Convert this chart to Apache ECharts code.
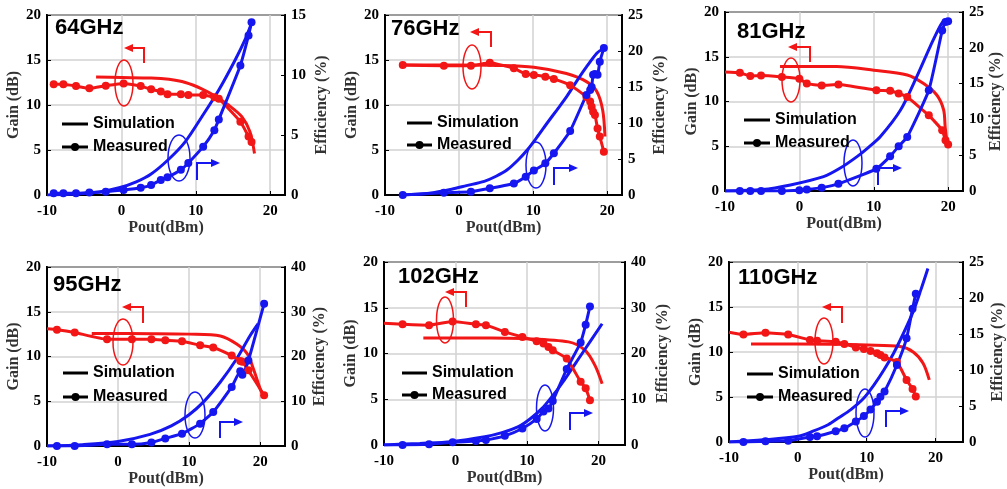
<!DOCTYPE html>
<html><head><meta charset="utf-8">
<script src="https://cdn.jsdelivr.net/npm/echarts@6/dist/echarts.min.js"></script>
<style>html,body{margin:0;padding:0;background:#fff}#c{width:1007px;height:489px}</style>
</head><body><div id="c"></div>
<script>
// ---------- DATA ----------
const xTicks = [-10, 0, 10, 20];
const gainTicks = [0, 5, 10, 15, 20];

// 64 GHz
const pout64 = [-9.1,-7.8,-6.1,-4.3,-2.1,0.3,2.6,4.0,5.3,6.2,8.0,9.0,11.0,12.5,13.1,16.0,17.1,17.5];
const gain64 = [12.3,12.3,12.1,11.85,12.15,12.4,12.1,11.75,11.5,11.2,11.2,11.1,11.1,10.85,10.7,8.15,6.5,5.9];
const eff64  = [0.14,0.14,0.14,0.2,0.28,0.42,0.6,0.83,1.25,1.47,2.1,2.67,4.03,5.4,6.3,10.8,13.3,14.4];
const simGainX64 = [-3.4,0,4,6.4,8.6,10.8,12.6,14.4,16.2,17.3,17.9];
const simGain64  = [13.1,13.05,13.0,12.85,12.5,11.8,11.0,10.0,8.7,7.0,4.6];
const simEffX64  = [-10,-6,-3,-0.3,2,4,6.4,8.6,10.8,13.1,15.3,16.6,17.5];
const simEff64   = [0,0.08,0.25,0.6,1.1,1.75,3.0,4.45,6.5,8.75,11.25,12.9,14.3];

// 76 GHz
const pout76 = [-7.6,-2.05,1.6,4.15,7.4,9.0,10.1,11.65,12.8,15.0,17.2,17.7,17.9,18.1,18.35,18.7,19.0,19.55];
const gain76 = [14.44,14.37,14.37,14.7,14.07,13.44,13.33,13.15,12.9,12.2,10.9,10.4,9.8,9.26,8.9,7.4,6.5,4.8];
const eff76  = [0,0.32,0.46,0.93,1.6,2.55,3.4,4.4,5.8,8.9,13.9,14.6,15.0,16.7,16.8,16.7,18.5,20.4];
const simGainX76 = [-7.6,0,5,10.1,14.5,17.2,18.6,19.4,19.7];
const simGain76  = [14.44,14.44,14.4,14.2,13.5,12.6,11.5,9.4,6.5];
const simEffX76  = [-7.6,-4,-1,1,3.4,5,6.5,8,9.2,10.5,11.9,13.2,14.55,16,17.2,18.6,19.3];
const simEff76   = [0,0.25,0.8,1.3,1.9,2.6,3.5,4.9,6.25,8.0,10.0,11.8,13.7,16.0,17.8,19.7,20.2];

// 81 GHz
const pout81 = [-10,-8,-6.6,-5.15,-2.35,0,1.0,3.0,5.25,10.35,12.2,13.35,14.5,17.4,19.2,19.65,20.0];
const gain81 = [13.3,13.2,12.85,12.9,12.75,12.55,12.0,11.8,11.9,11.25,11.2,10.9,10.5,8.45,6.8,5.66,5.2];
const eff81  = [0,0,0,0,0,0.1,0.2,0.47,1.0,3.1,4.84,6.24,7.54,14.06,22.4,23.6,23.7];
const simGainX81 = [-2.6,5,10,14.5,16.7,18.5,19.4,19.6,19.87];
const simGain81  = [13.9,13.9,13.5,12.96,12.0,10.7,9.05,7.2,5.3];
const simEffX81  = [-10,-5,-1.2,3.25,5.5,7.75,9.3,10.9,13.6,15.8,17.6,19.0,19.65,20.1];
const simEff81   = [0,0.2,0.84,2.0,3.2,4.8,6.1,7.6,11.3,16.0,20.2,23.2,23.9,23.6];

// 95 GHz
const pout95 = [-10,-8.6,-6.1,-1.55,1.95,4.7,6.65,9.0,11.55,13.4,16.0,17.2,17.5,18.35,20.56];
const gain95 = [13.1,13.0,12.68,11.93,11.93,11.93,11.82,11.7,11.25,11.0,10.1,9.5,9.4,8.45,5.66];
const eff95  = [0,0,0,0.37,0.37,0.8,1.7,2.75,5.0,7.6,13.2,16.7,15.9,19.1,31.8];
const simGainX95 = [-3.7,5,10,14.4,16.7,18.2,19.06,20,20.56];
const simGain95  = [12.56,12.55,12.5,12.3,11.4,10.3,8.6,6.4,5.4];
const simEffX95  = [-10,-5,0,4.5,7.5,10,12,14.4,16.7,18.6,19.7];
const simEff95   = [0,0.3,1.0,2.6,4.5,7.0,9.8,14.3,19.5,24.7,27.3];

// 102 GHz
const pout102 = [-10,-7.4,-3.7,-0.4,2.85,4.25,6.9,9.35,11.35,12.3,13.0,13.6,15.55,17.5,18.2,18.8];
const gain102 = [13.3,13.2,13.1,13.5,13.2,13.1,12.36,11.8,11.35,11.1,10.7,10.36,9.45,6.9,6.2,4.9];
const eff102  = [0,0,0.15,0.58,0.87,1.1,2.0,3.6,5.7,7.3,8.0,9.6,16.6,22.4,26.3,30.3];
const simGainX102 = [-4.5,5,9.25,15.8,18.1,19.5,20.5];
const simGain102  = [11.7,11.7,11.64,11.27,10.36,8.7,6.7];
const simEffX102  = [-10,-5,-0.6,4.1,6.5,8.8,10.5,12.1,13.5,14.9,17.7,20.5];
const simEff102   = [0,0.35,0.73,1.8,2.7,4.0,5.8,8.0,10.6,13.5,20.0,26.5];

// 110 GHz
const pout110 = [-10,-7.9,-4.7,-1.4,1.76,2.8,5.5,6.76,8.43,9.6,10.57,11.5,12.0,12.6,14.4,15.8,16.67,17.14];
const gain110 = [12.2,11.95,12.14,11.95,11.33,11.25,11.14,10.9,10.5,10.33,10.1,9.85,9.67,9.4,8.9,6.9,5.9,5.05];
const eff110  = [0,0,0.1,0.18,0.7,0.8,1.5,1.9,2.86,3.6,4.5,5.6,6.3,7.0,10.7,14.4,18.5,20.6];
const simGainX110 = [-6.8,5,10.1,14.86,16.76,18.2,19.1];
const simGain110  = [10.9,10.85,10.77,10.6,10.0,8.75,6.9];
const simEffX110  = [-10,-5,0.1,2.2,4.4,6,7.7,9.5,11.05,12.5,13.9,15.3,16.76,17.9,18.9];
const simEff110   = [0,0.3,0.8,1.5,2.4,3.4,4.5,6.0,7.9,10.0,12.3,15.0,18.1,21.2,24.1];

const titles = ['64GHz','76GHz','81GHz','95GHz','102GHz','110GHz'];
const effMaxes = [15,25,25,40,40,25];
const effIntervals = [5,5,5,10,10,5];

// ---------- LAYOUT ----------
const RED = '#f21616', BLUE = '#1616f0';
const panels = [
  {grid:{left:47,top:15,width:238,height:180}, xMax:22, gapL:22, gapR:29,
   d:[pout64,gain64,eff64,simGainX64,simGain64,simEffX64,simEff64],
   title:[55,28], leg:[62,88,124,147], red:{e:[124,83,9,23],a:[144,63,48,124]}, blue:{e:[179,158,11,23],a:[197,180,163,220]}},
  {grid:{left:385,top:15,width:237,height:180}, xMax:22, gapL:24, gapR:30,
   d:[pout76,gain76,eff76,simGainX76,simGain76,simEffX76,simEff76],
   title:[391,29], leg:[407,432,123,145], red:{e:[472,67,9,22],a:[491,47,32,470]}, blue:{e:[536,165,10,23],a:[554,185,168,578]}},
  {grid:{left:725,top:12,width:238,height:179}, xMax:22, gapL:23, gapR:24,
   d:[pout81,gain81,eff81,simGainX81,simGain81,simEffX81,simEff81],
   title:[737,32], leg:[744,770,120,143], red:{e:[791,80,9,22],a:[810,62,47,788]}, blue:{e:[853,163,9,23],a:[878,185,168,902]}},
  {grid:{left:47,top:267,width:238,height:179}, xMax:23.5, gapL:24, gapR:27,
   d:[pout95,gain95,eff95,simGainX95,simGain95,simEffX95,simEff95],
   title:[53,285], leg:[63,88,373,397], red:{e:[123,342,10,23],a:[143,323,307,122]}, blue:{e:[195,415,10,23],a:[220,438,422,243]}},
  {grid:{left:384,top:262,width:241,height:183}, xMax:23.7, gapL:24, gapR:30,
   d:[pout102,gain102,eff102,simGainX102,simGain102,simEffX102,simEff102],
   title:[398,277], leg:[402,427,373,395], red:{e:[445,320,8.5,23],a:[466,307,292,445]}, blue:{e:[545,408,8.5,23],a:[570,430,413,593]}},
  {grid:{left:729,top:262,width:238,height:180}, xMax:24, gapL:23, gapR:27,
   d:[pout110,gain110,eff110,simGainX110,simGain110,simEffX110,simEff110],
   title:[738,278], leg:[747,773,374,397], red:{e:[824,341,9,23],a:[842,323,307,822]}, blue:{e:[865,413,9,24],a:[886,427,411,909]}}
];

const serif = '"Liberation Serif","Times New Roman",serif';
const sans = '"Liberation Sans",Arial,sans-serif';
const nameStyle = {fontFamily:serif, fontWeight:'bold', fontSize:16, color:'#333'};
const labStyle = {fontFamily:serif, fontWeight:'bold', fontSize:15, color:'#000'};

const grids=[], xAxes=[], yAxes=[], series=[], graphics=[];
const zip = (a,b)=>a.map((v,i)=>[v,b[i]]);

panels.forEach((p,i)=>{
  grids.push(Object.assign({show:true, borderColor:'#000', borderWidth:2, containLabel:false}, p.grid));
  xAxes.push({type:'value', gridIndex:i, min:xTicks[0], max:p.xMax, interval:10,
    name:'Pout(dBm)', nameLocation:'middle', nameGap:25, nameTextStyle:nameStyle,
    axisLine:{show:true, onZero:false, lineStyle:{color:'#000', width:2}},
    axisTick:{show:true, inside:true, length:4, lineStyle:{color:'#000'}},
    axisLabel:Object.assign({margin:9, showMaxLabel:false,
      formatter:(v)=> xTicks.indexOf(v) >= 0 ? String(v) : ''}, labStyle),
    splitLine:{show:true, lineStyle:{color:'#d2d2d2', width:1.5}}});
  yAxes.push({type:'value', gridIndex:i, min:gainTicks[0], max:gainTicks[gainTicks.length-1], interval:5, position:'left',
    name:'Gain (dB)', nameLocation:'middle', nameGap:p.gapL, nameTextStyle:nameStyle,
    axisLine:{show:true, onZero:false, lineStyle:{color:'#000', width:2}},
    axisTick:{show:true, inside:true, length:4, lineStyle:{color:'#000'}},
    axisLabel:Object.assign({margin:6}, labStyle),
    splitLine:{show:true, lineStyle:{color:'#d2d2d2', width:1.5}}});
  yAxes.push({type:'value', gridIndex:i, min:0, max:effMaxes[i], interval:effIntervals[i], position:'right',
    name:'Efficiency (%)', nameLocation:'middle', nameGap:p.gapR, nameTextStyle:nameStyle,
    axisLine:{show:true, onZero:false, lineStyle:{color:'#000', width:2}},
    axisTick:{show:true, inside:true, length:4, lineStyle:{color:'#000'}},
    axisLabel:Object.assign({margin:6}, labStyle),
    splitLine:{show:false}});
  const [px,pg,pe,sgx,sg,sex,se] = p.d;
  const symSize = (v)=> v[0] <= -10 ? 0 : 8;
  series.push({type:'line', xAxisIndex:i, yAxisIndex:2*i, data:zip(sgx,sg), smooth:0.3,
    showSymbol:false, lineStyle:{color:RED, width:3}, z:3});
  series.push({type:'line', xAxisIndex:i, yAxisIndex:2*i, data:zip(px,pg), symbol:'circle', symbolSize:symSize,
    smooth:0.15, itemStyle:{color:RED}, lineStyle:{color:RED, width:3}, z:4});
  series.push({type:'line', xAxisIndex:i, yAxisIndex:2*i+1, data:zip(sex,se), smooth:0.3,
    showSymbol:false, lineStyle:{color:BLUE, width:3}, z:3});
  series.push({type:'line', xAxisIndex:i, yAxisIndex:2*i+1, data:zip(px,pe), symbol:'circle', symbolSize:symSize,
    smooth:0.15, itemStyle:{color:BLUE}, lineStyle:{color:BLUE, width:3}, z:4});

  graphics.push({type:'text', x:p.title[0], y:p.title[1], z:10,
    style:{text:titles[i], font:'bold 22px '+sans, fill:'#000', verticalAlign:'middle'}});
  const [lx1,lx2,ly1,ly2] = p.leg;
  graphics.push({type:'line', z:10, shape:{x1:lx1,y1:ly1,x2:lx2,y2:ly1}, style:{stroke:'#000', lineWidth:3}});
  graphics.push({type:'line', z:10, shape:{x1:lx1,y1:ly2,x2:lx2,y2:ly2}, style:{stroke:'#000', lineWidth:3}});
  graphics.push({type:'circle', z:10, shape:{cx:(lx1+lx2)/2, cy:ly2, r:4}, style:{fill:'#000'}});
  graphics.push({type:'text', z:10, x:lx2+5, y:ly1, style:{text:'Simulation', font:'bold 16px '+sans, fill:'#000', verticalAlign:'middle'}});
  graphics.push({type:'text', z:10, x:lx2+5, y:ly2, style:{text:'Measured', font:'bold 16px '+sans, fill:'#000', verticalAlign:'middle'}});
  [[p.red,RED],[p.blue,BLUE]].forEach(([o,col])=>{
    graphics.push({type:'ellipse', z:9, shape:{cx:o.e[0],cy:o.e[1],rx:o.e[2],ry:o.e[3]}, style:{fill:'none', stroke:col, lineWidth:1.5}});
    const [ax,ay1,ay2,ahx] = o.a;
    const dir = ahx < ax ? -1 : 1;
    graphics.push({type:'polyline', z:9, shape:{points:[[ax,ay1],[ax,ay2],[ahx-dir*7,ay2]]}, style:{fill:'none', stroke:col, lineWidth:2}});
    graphics.push({type:'polygon', z:9, shape:{points:[[ahx,ay2],[ahx-dir*9,ay2-4],[ahx-dir*9,ay2+4]]}, style:{fill:col}});
  });
});

const chart = echarts.init(document.getElementById('c'), null, {renderer:'canvas'});
chart.setOption({animation:false, backgroundColor:'#fff', grid:grids, xAxis:xAxes, yAxis:yAxes, series:series, graphic:{elements:graphics}});
</script></body></html>
